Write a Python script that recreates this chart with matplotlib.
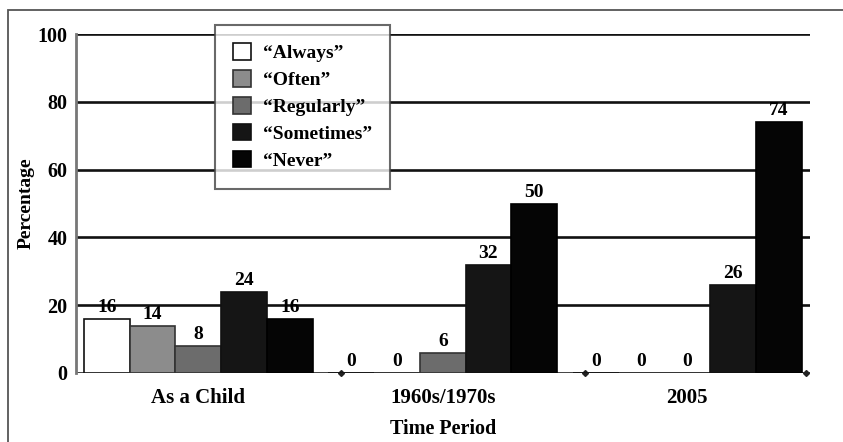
import numpy as np
import matplotlib.pyplot as plt
import matplotlib as mpl
from matplotlib.patches import Rectangle

mpl.rcParams['font.family'] = 'serif'
mpl.rcParams['font.serif'] = ['Liberation Serif', 'DejaVu Serif']
mpl.rcParams['font.weight'] = 'bold'

# Survey answers per time period (percent)
periods = ["As a Child", "1960s/1970s", "2005"]
answers = ["\u201cAlways\u201d", "\u201cOften\u201d", "\u201cRegularly\u201d",
           "\u201cSometimes\u201d", "\u201cNever\u201d"]
always = [16, 0, 0]
often = [14, 0, 0]
regularly = [8, 6, 0]
sometimes = [24, 32, 26]
never = [16, 50, 74]

series = [always, often, regularly, sometimes, never]
colors = ['white', '#8c8c8c', '#6c6c6c', '#151515', '#050505']
edges = ['#111111', '#333333', '#333333', '#111111', '#000000']

fig = plt.figure(figsize=(8.43, 4.42), dpi=100)
ax = fig.add_axes([76/843, 69/442, (810-76)/843, (373-34)/442])

# outer frame
fig.patches.append(Rectangle((8/843, -0.1), 1.2, (442-10)/442 + 0.1,
                             transform=fig.transFigure, fill=False,
                             edgecolor='#555555', lw=1.3))

width = 0.187
x = np.arange(len(periods))
for i, (vals, c, ec) in enumerate(zip(series, colors, edges)):
    pos = x + (i - 2) * width
    ax.bar(pos, vals, width, color=c, edgecolor=ec, linewidth=1.2,
           label=answers[i], zorder=3)
    for xp, v in zip(pos, vals):
        ax.text(xp, v + 0.8, str(v), ha='center', va='bottom',
                fontsize=14, fontweight='bold', zorder=4)

for yv in [20, 40, 60, 80, 100]:
    ax.axhline(yv, color='#111111', lw=1.9, zorder=1)

# baseline with small markers at group boundaries
ax.axhline(0, color='#222222', lw=1.2, zorder=2)
ax.plot([0.5 + width/2 - 0.01, 1.5 + width/2 - 0.01, 2 + 2.5*width + 0.02], [0, 0, 0],
        linestyle='none', marker='D', ms=3, color='#222222', zorder=2, clip_on=False)

ax.set_xlim(-0.5, 2.5 + 0.002)
ax.set_ylim(0, 100)
ax.set_yticks([0, 20, 40, 60, 80, 100])
ax.set_xticks(x)
ax.set_xticklabels(periods, fontsize=15, fontweight='bold')
ax.tick_params(axis='y', length=0, pad=6, labelsize=14.5)
ax.tick_params(axis='x', length=0, pad=11)
for lab in ax.get_yticklabels():
    lab.set_fontweight('bold')

for s in ['top', 'right', 'bottom']:
    ax.spines[s].set_visible(False)
ax.spines['left'].set_color('#777777')
ax.spines['left'].set_linewidth(2)

ax.set_ylabel("Percentage", fontsize=14, fontweight='bold')
ax.yaxis.set_label_coords(-(76-35)/734, 0.5)
ax.set_xlabel("Time Period", fontsize=14.5, fontweight='bold', labelpad=8)

leg = ax.legend(loc='upper left', bbox_to_anchor=((215-76)/734, (373-25)/339),
                frameon=True, fancybox=False, fontsize=14,
                handlelength=0.9, handleheight=0.9, handletextpad=0.6,
                labelspacing=0.42, borderpad=0.95, borderaxespad=0)
leg.get_frame().set_edgecolor('#444444')
leg.get_frame().set_linewidth(1.5)
leg.set_zorder(5)
for t in leg.get_texts():
    t.set_fontweight('bold')

fig.savefig('out.png', dpi=100)
